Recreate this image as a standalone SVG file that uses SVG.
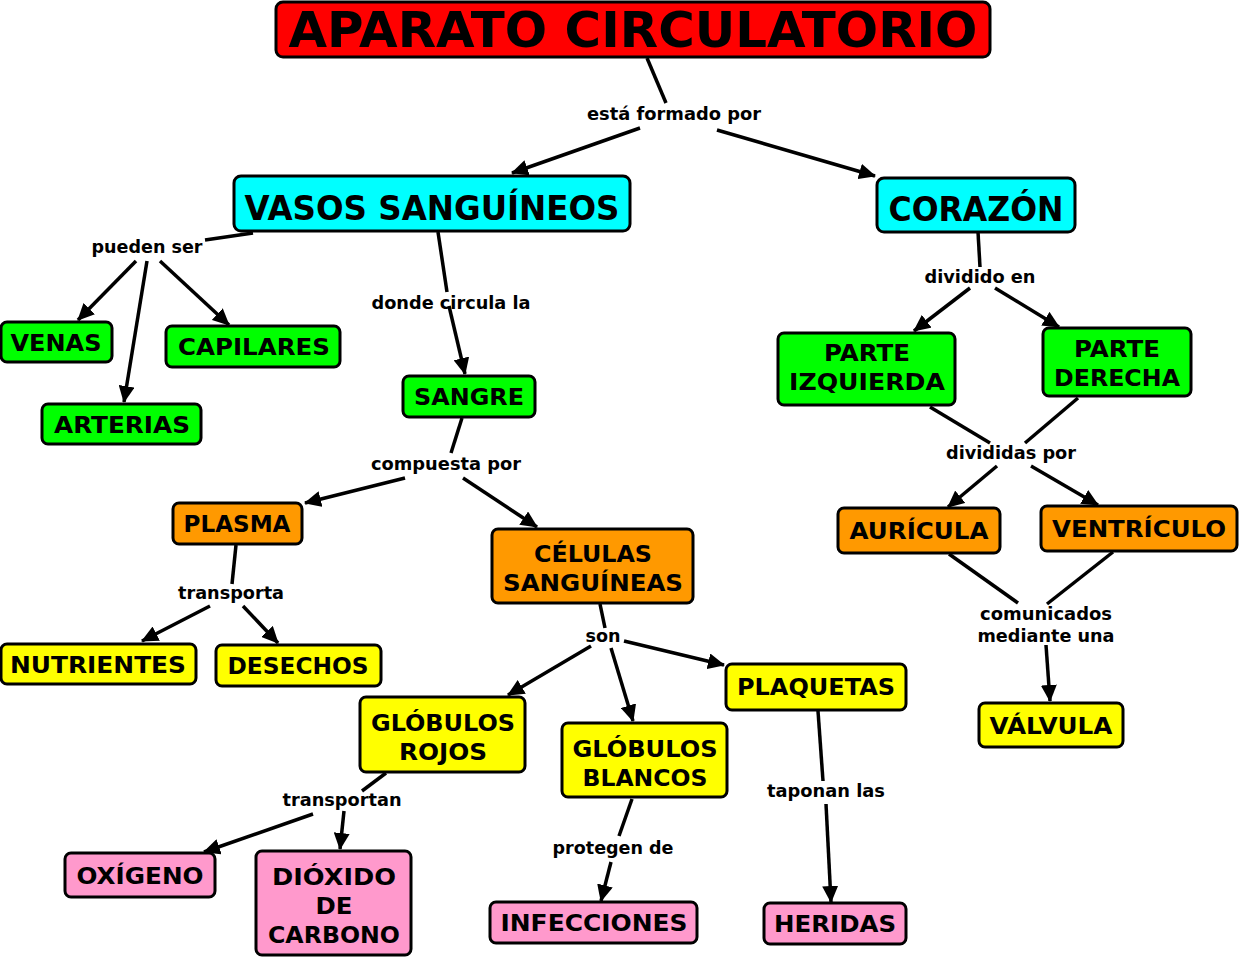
<svg xmlns="http://www.w3.org/2000/svg" width="1239" height="957" viewBox="0 0 1239 957">
<style>
.n rect{stroke:#000;stroke-width:3}
.n text{font-family:"DejaVu Sans","Verdana",sans-serif;font-weight:bold;font-size:23px;fill:#000;text-anchor:middle}
.big text{font-size:33px}
.title text{font-size:50px}
.red{fill:#ff0000}.cyan{fill:#00ffff}.green{fill:#00ff00}.orange{fill:#ff9900}.yellow{fill:#ffff00}.pink{fill:#ff99cc}
.lbl{font-family:"DejaVu Sans","Verdana",sans-serif;font-weight:bold;font-size:17px;fill:#000;text-anchor:middle}
.c line{stroke:#000;stroke-width:3.5}
.c line.a{marker-end:url(#arr)}
</style>
<defs>
<marker id="arr" markerUnits="userSpaceOnUse" markerWidth="18" markerHeight="16" refX="16" refY="8" orient="auto">
<path d="M0,0 L17,8 L0,16 Z" fill="#000"/>
</marker>
</defs>
<rect width="1239" height="957" fill="#fff"/>
<g id="connectors" class="c">
<line x1="647" y1="58" x2="666" y2="103"/>
<line class="a" x1="640" y1="128" x2="512" y2="173"/>
<line class="a" x1="717" y1="130" x2="875" y2="176"/>
<line x1="253" y1="233" x2="205" y2="240"/>
<line class="a" x1="136" y1="261" x2="78" y2="320"/>
<line class="a" x1="147" y1="261" x2="124" y2="402"/>
<line class="a" x1="160" y1="261" x2="229" y2="325"/>
<line x1="438" y1="232" x2="447" y2="292"/>
<line class="a" x1="449" y1="306" x2="465" y2="374"/>
<line x1="462" y1="418" x2="451" y2="453"/>
<line class="a" x1="405" y1="478" x2="305" y2="503"/>
<line class="a" x1="463" y1="478" x2="537" y2="527"/>
<line x1="236" y1="545" x2="232" y2="584"/>
<line class="a" x1="210" y1="606" x2="142" y2="641"/>
<line class="a" x1="243" y1="606" x2="278" y2="643"/>
<line x1="600" y1="604" x2="605" y2="628"/>
<line class="a" x1="591" y1="646" x2="508" y2="695"/>
<line class="a" x1="611" y1="648" x2="633" y2="721"/>
<line class="a" x1="624" y1="641" x2="724" y2="665"/>
<line x1="386" y1="773" x2="362" y2="791"/>
<line class="a" x1="313" y1="814" x2="204" y2="852"/>
<line class="a" x1="344" y1="811" x2="340" y2="849"/>
<line x1="632" y1="799" x2="619" y2="836"/>
<line class="a" x1="611" y1="862" x2="601" y2="901"/>
<line x1="818" y1="711" x2="823" y2="781"/>
<line class="a" x1="826" y1="804" x2="831" y2="902"/>
<line x1="978" y1="232" x2="980" y2="267"/>
<line class="a" x1="970" y1="288" x2="914" y2="331"/>
<line class="a" x1="995" y1="288" x2="1059" y2="327"/>
<line x1="930" y1="407" x2="990" y2="443"/>
<line x1="1078" y1="398" x2="1025" y2="443"/>
<line class="a" x1="997" y1="466" x2="948" y2="507"/>
<line class="a" x1="1031" y1="466" x2="1098" y2="505"/>
<line x1="949" y1="554" x2="1018" y2="603"/>
<line x1="1113" y1="552" x2="1047" y2="604"/>
<line class="a" x1="1046" y1="645" x2="1050" y2="701"/>
</g>
<g id="labels">
<text class="lbl" x="674" y="120" textLength="174" lengthAdjust="spacingAndGlyphs">está formado por</text>
<text class="lbl" x="147" y="253" textLength="111" lengthAdjust="spacingAndGlyphs">pueden ser</text>
<text class="lbl" x="451" y="309" textLength="159" lengthAdjust="spacingAndGlyphs">donde circula la</text>
<text class="lbl" x="980" y="283" textLength="111" lengthAdjust="spacingAndGlyphs">dividido en</text>
<text class="lbl" x="446" y="470" textLength="150" lengthAdjust="spacingAndGlyphs">compuesta por</text>
<text class="lbl" x="1011" y="459" textLength="130" lengthAdjust="spacingAndGlyphs">divididas por</text>
<text class="lbl" x="231" y="599" textLength="106" lengthAdjust="spacingAndGlyphs">transporta</text>
<text class="lbl" x="603" y="642" textLength="35" lengthAdjust="spacingAndGlyphs">son</text>
<text class="lbl" x="1046" y="620" textLength="132" lengthAdjust="spacingAndGlyphs">comunicados</text>
<text class="lbl" x="1046" y="642" textLength="137" lengthAdjust="spacingAndGlyphs">mediante una</text>
<text class="lbl" x="342" y="806" textLength="119" lengthAdjust="spacingAndGlyphs">transportan</text>
<text class="lbl" x="826" y="797" textLength="118" lengthAdjust="spacingAndGlyphs">taponan las</text>
<text class="lbl" x="613" y="854" textLength="121" lengthAdjust="spacingAndGlyphs">protegen de</text>
</g>
<g id="n-aparato" class="n title"><rect class="red" x="276" y="2" width="714" height="55" rx="7"/><text x="633" y="47" textLength="689" lengthAdjust="spacingAndGlyphs">APARATO CIRCULATORIO</text></g>
<g id="n-vasos" class="n big"><rect class="cyan" x="234" y="176" width="396" height="55" rx="7"/><text x="432" y="220" textLength="375" lengthAdjust="spacingAndGlyphs">VASOS SANGUÍNEOS</text></g>
<g id="n-corazon" class="n big"><rect class="cyan" x="877" y="178" width="198" height="54" rx="7"/><text x="976" y="221" textLength="175" lengthAdjust="spacingAndGlyphs">CORAZÓN</text></g>
<g id="n-venas" class="n"><rect class="green" x="1" y="322" width="111" height="40" rx="6"/><text x="56" y="351" textLength="91" lengthAdjust="spacingAndGlyphs">VENAS</text></g>
<g id="n-capilares" class="n"><rect class="green" x="166" y="326" width="174" height="41" rx="6"/><text x="254" y="355" textLength="152" lengthAdjust="spacingAndGlyphs">CAPILARES</text></g>
<g id="n-arterias" class="n"><rect class="green" x="42" y="404" width="159" height="40" rx="6"/><text x="122" y="433" textLength="136" lengthAdjust="spacingAndGlyphs">ARTERIAS</text></g>
<g id="n-sangre" class="n"><rect class="green" x="403" y="376" width="132" height="41" rx="6"/><text x="469" y="405" textLength="110" lengthAdjust="spacingAndGlyphs">SANGRE</text></g>
<g id="n-parteizq" class="n"><rect class="green" x="778" y="333" width="177" height="72" rx="6"/><text x="867" y="361" textLength="86" lengthAdjust="spacingAndGlyphs">PARTE</text><text x="867" y="390" textLength="156" lengthAdjust="spacingAndGlyphs">IZQUIERDA</text></g>
<g id="n-parteder" class="n"><rect class="green" x="1043" y="328" width="148" height="68" rx="6"/><text x="1117" y="357" textLength="86" lengthAdjust="spacingAndGlyphs">PARTE</text><text x="1117" y="386" textLength="126" lengthAdjust="spacingAndGlyphs">DERECHA</text></g>
<g id="n-plasma" class="n"><rect class="orange" x="173" y="503" width="129" height="41" rx="6"/><text x="237" y="532" textLength="107" lengthAdjust="spacingAndGlyphs">PLASMA</text></g>
<g id="n-celulas" class="n"><rect class="orange" x="492" y="529" width="201" height="74" rx="6"/><text x="593" y="562" textLength="118" lengthAdjust="spacingAndGlyphs">CÉLULAS</text><text x="593" y="591" textLength="180" lengthAdjust="spacingAndGlyphs">SANGUÍNEAS</text></g>
<g id="n-auricula" class="n"><rect class="orange" x="838" y="508" width="162" height="45" rx="6"/><text x="919" y="539" textLength="139" lengthAdjust="spacingAndGlyphs">AURÍCULA</text></g>
<g id="n-ventriculo" class="n"><rect class="orange" x="1041" y="506" width="196" height="45" rx="6"/><text x="1139" y="537" textLength="174" lengthAdjust="spacingAndGlyphs">VENTRÍCULO</text></g>
<g id="n-nutrientes" class="n"><rect class="yellow" x="1" y="644" width="195" height="40" rx="6"/><text x="98" y="673" textLength="176" lengthAdjust="spacingAndGlyphs">NUTRIENTES</text></g>
<g id="n-desechos" class="n"><rect class="yellow" x="216" y="645" width="165" height="41" rx="6"/><text x="298" y="674" textLength="141" lengthAdjust="spacingAndGlyphs">DESECHOS</text></g>
<g id="n-rojos" class="n"><rect class="yellow" x="360" y="697" width="165" height="75" rx="6"/><text x="443" y="731" textLength="144" lengthAdjust="spacingAndGlyphs">GLÓBULOS</text><text x="443" y="760" textLength="88" lengthAdjust="spacingAndGlyphs">ROJOS</text></g>
<g id="n-blancos" class="n"><rect class="yellow" x="562" y="723" width="165" height="74" rx="6"/><text x="645" y="757" textLength="145" lengthAdjust="spacingAndGlyphs">GLÓBULOS</text><text x="645" y="786" textLength="125" lengthAdjust="spacingAndGlyphs">BLANCOS</text></g>
<g id="n-plaquetas" class="n"><rect class="yellow" x="726" y="664" width="180" height="46" rx="6"/><text x="816" y="695" textLength="158" lengthAdjust="spacingAndGlyphs">PLAQUETAS</text></g>
<g id="n-valvula" class="n"><rect class="yellow" x="979" y="703" width="144" height="44" rx="6"/><text x="1051" y="734" textLength="123" lengthAdjust="spacingAndGlyphs">VÁLVULA</text></g>
<g id="n-oxigeno" class="n"><rect class="pink" x="65" y="853" width="150" height="44" rx="6"/><text x="140" y="884" textLength="127" lengthAdjust="spacingAndGlyphs">OXÍGENO</text></g>
<g id="n-dioxido" class="n"><rect class="pink" x="256" y="851" width="155" height="104" rx="6"/><text x="334" y="885" textLength="124" lengthAdjust="spacingAndGlyphs">DIÓXIDO</text><text x="334" y="914" textLength="37" lengthAdjust="spacingAndGlyphs">DE</text><text x="334" y="943" textLength="132" lengthAdjust="spacingAndGlyphs">CARBONO</text></g>
<g id="n-infecciones" class="n"><rect class="pink" x="490" y="902" width="207" height="41" rx="6"/><text x="594" y="931" textLength="187" lengthAdjust="spacingAndGlyphs">INFECCIONES</text></g>
<g id="n-heridas" class="n"><rect class="pink" x="764" y="903" width="142" height="41" rx="6"/><text x="835" y="932" textLength="122" lengthAdjust="spacingAndGlyphs">HERIDAS</text></g>
</svg>
